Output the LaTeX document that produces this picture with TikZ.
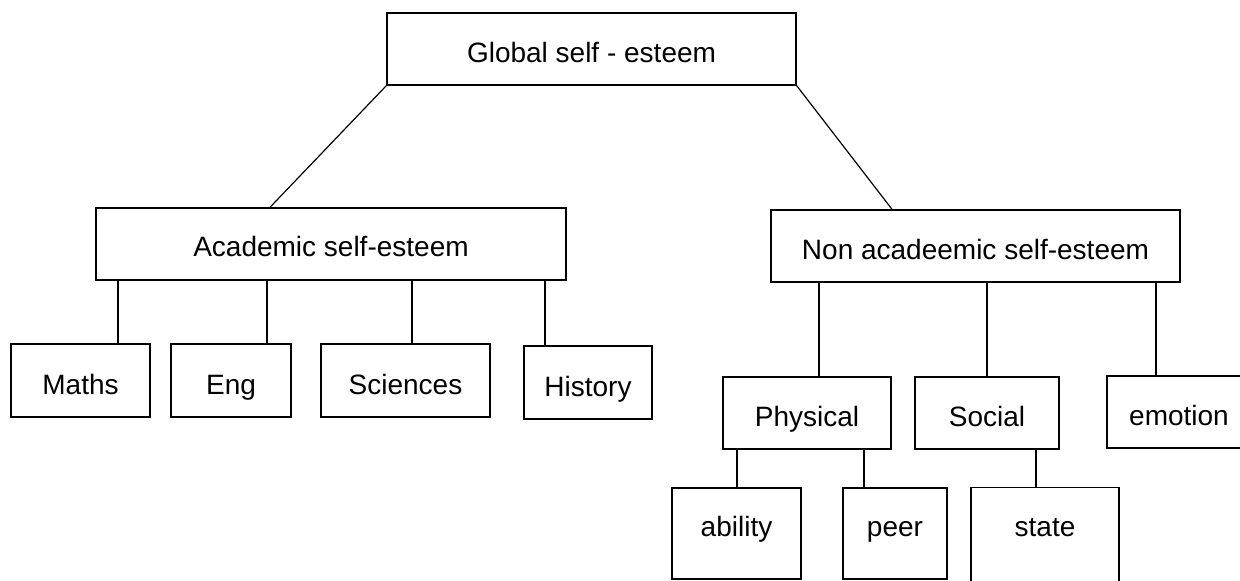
\documentclass[tikz,border=0pt]{standalone}
\usepackage{fontspec}
\setmainfont{Liberation Sans}
\usetikzlibrary{calc}

\tikzset{
  box/.style={draw, line width=0.7pt, inner sep=0pt, text height=14pt, text depth=0pt,
    font=\fontsize{14}{16}\selectfont},
  leaf/.style={box, text height=3.5pt},
  link/.style={line width=0.6pt}
}

\begin{document}
\begin{tikzpicture}[x=0.5pt, y=-0.5pt]
    \useasboundingbox (0,0) rectangle (1240,581);

    % Top level
    \node[box, minimum width=204.5pt, minimum height=36pt] (global) at (591.5,49) {Global self - esteem};

    % Second level
    \node[box, text height=13pt, minimum width=235pt, minimum height=36pt] (academic) at (331,244) {Academic self-esteem};
    \node[box, minimum width=204.5pt, minimum height=36pt] (nonacad) at (975.5,246) {Non acadeemic self-esteem};

    % Academic subjects
    \node[box, minimum width=69.5pt, minimum height=36.5pt] (maths) at (80.5,380.5) {Maths};
    \node[box, minimum width=60pt, minimum height=36.5pt] (eng) at (231,380.5) {Eng};
    \node[box, minimum width=84.5pt, minimum height=36.5pt] (sciences) at (405.5,380.5) {Sciences};
    \node[box, minimum width=64pt, minimum height=36.5pt] (history) at (588,382.5) {History};

    % Non academic parts
    \node[box, minimum width=84pt, minimum height=36pt] (physical) at (807,413) {Physical};
    \node[box, minimum width=72pt, minimum height=36pt] (social) at (987,413) {Social};
    \node[box, minimum width=72pt, minimum height=36pt] (emotion) at (1179,412) {emotion};

    % Bottom level
    \node[leaf, minimum width=64.5pt, minimum height=45.5pt] (ability) at (736.5,533.5) {ability};
    \node[leaf, minimum width=52pt, minimum height=45.5pt] (peer) at (895,533.5) {peer};
    \node[leaf, draw=none, minimum width=73.5pt, minimum height=45.5pt] (state) at (1045,533.5) {state};
    \draw[line width=0.75pt] ($(state.south west)+(0,12)$) -- (state.north west) -- (state.north east) -- ($(state.south east)+(0,12)$);

    % Diagonal links
    \draw[link] (global.south west) -- ($(academic.north)+(-61,0)$);
    \draw[link] (global.south east) -- ($(nonacad.north)+(-83.5,0)$);

    % Vertical links
    \foreach \child/\dx in {maths/37.5, eng/36, sciences/6.5, history/-43} {
        \path ($(\child.north)+(\dx,0)$) coordinate (top);
        \draw[link] (top) -- (top |- academic.south);
    }
    \foreach \child/\dx in {physical/12, social/0, emotion/-23} {
        \path ($(\child.north)+(\dx,0)$) coordinate (top);
        \draw[link] (top) -- (top |- nonacad.south);
    }
    \foreach \child/\dx in {ability/0.5, peer/-31} {
        \path ($(\child.north)+(\dx,0)$) coordinate (top);
        \draw[link] (top) -- (top |- physical.south);
    }
    \path ($(state.north)+(-9,0)$) coordinate (top);
    \draw[link] (top) -- (top |- social.south);
\end{tikzpicture}
\end{document}
